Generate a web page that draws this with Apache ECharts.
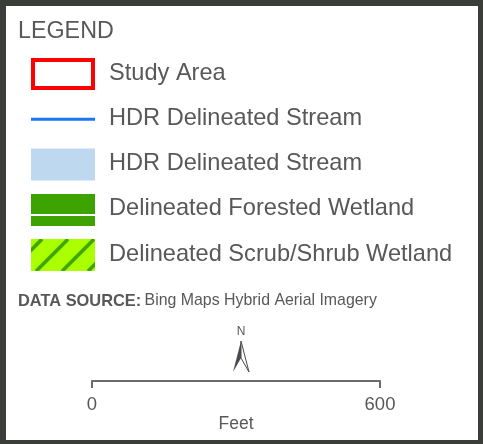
<!DOCTYPE html>
<html>
<head>
<meta charset="utf-8">
<script src="https://cdn.jsdelivr.net/npm/echarts@6/dist/echarts.min.js"></script>
<style>
  html, body { margin: 0; padding: 0; background: #3b3e38; }
  #chart { width: 483px; height: 444px; }
</style>
</head>
<body>
<div id="chart"></div>
<script>
var legendTitle = 'LEGEND';
var legendLabels = ['Study Area', 'HDR Delineated Stream', 'HDR Delineated Stream',
    'Delineated Forested Wetland', 'Delineated Scrub/Shrub Wetland'];
var legendSymbols = ['outline', 'line', 'fill', 'double', 'hatch'];
var sourceLabel = 'DATA SOURCE:';
var sourceText = 'Bing Maps Hybrid Aerial Imagery';
var scaleMin = 0;
var scaleMax = 600;
var scaleUnit = 'Feet';

var textColor = '#58585b';
var font = '"Liberation Sans", Arial, sans-serif';

// hatch swatch for scrub/shrub
function hatchCanvas(w, h) {
    var c = document.createElement('canvas');
    c.width = w; c.height = h;
    var ctx = c.getContext('2d');
    ctx.fillStyle = '#aaff00';
    ctx.fillRect(0, 0, w, h);
    ctx.strokeStyle = '#3ca300';
    ctx.lineWidth = 3.5;
    for (var x = -41; x < w + h; x += 26) {
        ctx.beginPath();
        ctx.moveTo(x, 0);
        ctx.lineTo(x - h, h);
        ctx.stroke();
    }
    return c;
}

function swatch(kind, x, cy) {
    var w = 64, h = 32, y = cy - h / 2;
    if (kind == 'outline') {
        return [{type: 'rect', shape: {x: x + 2, y: y + 2, width: w - 4, height: h - 4},
            style: {fill: '#fff', stroke: '#ff0000', lineWidth: 4}}];
    }
    if (kind == 'line') {
        return [{type: 'line', shape: {x1: x, y1: cy, x2: x + w, y2: cy},
            style: {stroke: '#1976f5', lineWidth: 3}}];
    }
    if (kind == 'fill') {
        return [{type: 'rect', shape: {x: x, y: y, width: w, height: h},
            style: {fill: '#bed8f0'}}];
    }
    if (kind == 'double') {
        return [
            {type: 'rect', shape: {x: x, y: y, width: w, height: h}, style: {fill: '#3ca300'}},
            {type: 'rect', shape: {x: x, y: y + 20, width: w, height: 2}, style: {fill: '#fff'}}
        ];
    }
    return [{type: 'image', style: {image: hatchCanvas(w, h), x: x, y: y, width: w, height: h}}];
}

var elements = [
    {type: 'rect', shape: {x: 6, y: 6, width: 472, height: 434}, style: {fill: '#ffffff'}, z: 0},
    {type: 'text', style: {text: legendTitle, x: 18, y: 32, fill: textColor,
        font: '23.3px ' + font, textVerticalAlign: 'middle'}, z: 2}
];
for (var i = 0; i < legendLabels.length; i++) {
    var cy = 74 + i * 45.3;
    var sw = swatch(legendSymbols[i], 31, cy);
    for (var j = 0; j < sw.length; j++) {
        sw[j].z = 2;
        elements.push(sw[j]);
    }
    elements.push({type: 'text', z: 2, style: {text: legendLabels[i], x: 109, y: cy - 1,
        fill: textColor, font: '23.6px ' + font, textVerticalAlign: 'middle'}});
}
elements.push({type: 'text', z: 2, style: {
    text: '{b|' + sourceLabel + '} {r|' + sourceText + '}', x: 18, y: 301,
    textVerticalAlign: 'middle',
    rich: {
        b: {fontFamily: font, fontSize: 16.4, fontWeight: 'bold', fill: textColor},
        r: {fontFamily: font, fontSize: 15.9, fill: textColor}
    }}});
// north arrow
elements.push({type: 'text', z: 2, style: {text: 'N', x: 241, y: 332, fill: textColor,
    font: '12px ' + font, textAlign: 'center', textVerticalAlign: 'middle'}});
elements.push({type: 'polygon', z: 2, shape: {points: [[241, 341], [233, 372], [241, 358]]},
    style: {fill: '#4a494f'}});
elements.push({type: 'polygon', z: 2, shape: {points: [[241, 341], [241, 358], [249, 372]]},
    style: {fill: '#fff', stroke: '#4a494f', lineWidth: 1}});

var option = {
    animation: false,
    grid: {left: 92, right: 103, top: 300, bottom: 63},
    xAxis: {
        type: 'value',
        min: scaleMin,
        max: scaleMax,
        interval: scaleMax - scaleMin,
        name: scaleUnit,
        nameLocation: 'middle',
        nameGap: 25,
        nameTextStyle: {fontFamily: font, fontSize: 17.5, color: textColor},
        axisLine: {show: true, lineStyle: {color: '#6b6b6e', width: 2}},
        axisTick: {show: true, length: 7, lineStyle: {color: '#6b6b6e', width: 2}},
        axisLabel: {fontFamily: font, fontSize: 18.5, color: textColor, margin: 14},
        splitLine: {show: false},
        z: 5
    },
    yAxis: {type: 'value', show: false},
    series: [{type: 'line', data: []}],
    graphic: {elements: elements}
};

var chart = echarts.init(document.getElementById('chart'));
chart.setOption(option);
</script>
</body>
</html>
